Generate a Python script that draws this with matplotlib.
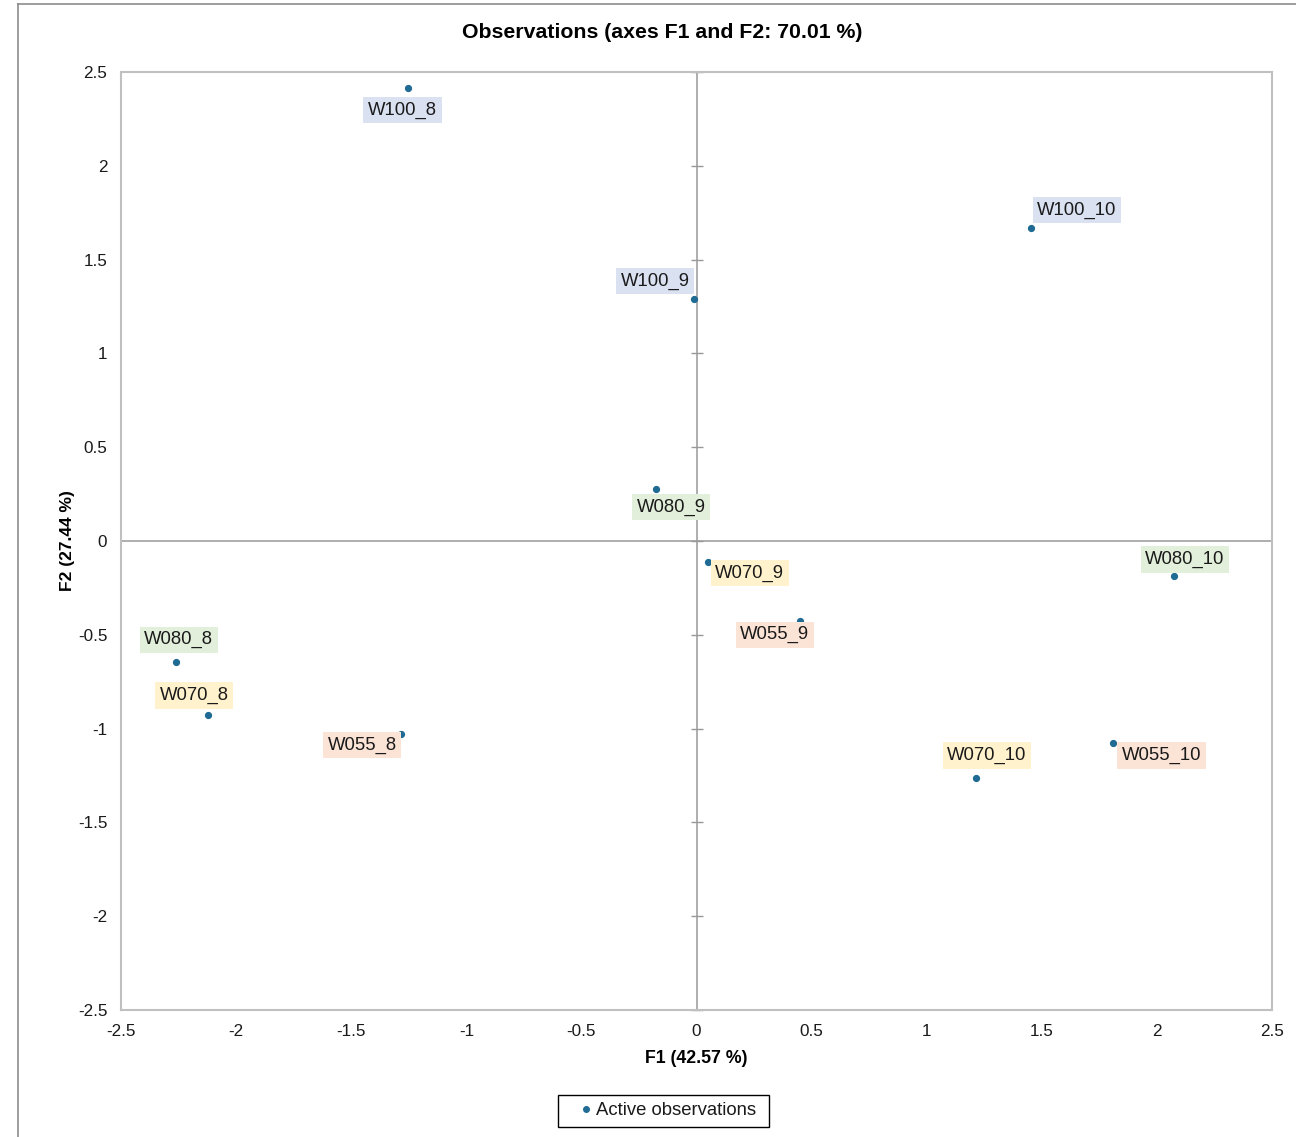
import numpy as np
import matplotlib
matplotlib.use("Agg")
import matplotlib.pyplot as plt
from matplotlib.lines import Line2D
from matplotlib.patches import Rectangle

plt.rcParams['font.family'] = ['Liberation Sans', 'DejaVu Sans']

# observation scores on F1 / F2
names = ['W100_8', 'W100_10', 'W100_9', 'W080_9', 'W070_9', 'W055_9',
         'W080_10', 'W080_8', 'W070_8', 'W055_8', 'W070_10', 'W055_10']
f1 = [-1.253, 1.453, -0.011, -0.176, 0.050, 0.449,
      2.074, -2.261, -2.122, -1.284, 1.214, 1.809]
f2 = [2.415, 1.668, 1.290, 0.277, -0.112, -0.426,
      -0.187, -0.645, -0.928, -1.029, -1.263, -1.077]

ticks = [-2.5, -2, -1.5, -1, -0.5, 0, 0.5, 1, 1.5, 2, 2.5]
tick_labels = ['-2.5', '-2', '-1.5', '-1', '-0.5', '0', '0.5', '1', '1.5', '2', '2.5']

# label box colour by group
group_col = {'W100': '#dae1f1', 'W080': '#e2efda', 'W070': '#fff2cc', 'W055': '#fbe3d6'}
# label offsets in points (dx, dy)
offs = [(-4, -16), (33, 13), (-28, 13), (11, -13), (30, -8), (-18, -10),
        (8, 12), (2, 16), (-10, 14), (-28, -8), (8, 16), (35, -9)]

fig = plt.figure(figsize=(12.96, 11.37), dpi=100)
ax = fig.add_axes([0.0934, 0.1117, 0.8881, 0.825])

ax.axhline(0, color='#999999', lw=1.1, zorder=1)
ax.axvline(0, color='#999999', lw=1.1, zorder=1)
ax.plot(np.zeros(len(ticks)), ticks, ls='none', marker='_', ms=9,
        mew=1.0, color='#999999', zorder=1, clip_on=False)

ax.plot(f1, f2, ls='none', marker='o', ms=4.2, color='#1f6b94', zorder=3)

for n, x, y, (dx, dy) in zip(names, f1, f2, offs):
    ax.annotate(n, (x, y), xytext=(dx, dy), textcoords='offset points',
                ha='center', va='center', fontsize=13.3, color='#1a1a1a',
                bbox=dict(boxstyle='square,pad=0.25', fc=group_col[n[:4]], ec='none'),
                zorder=4)

ax.set_xlim(-2.5, 2.5)
ax.set_ylim(-2.5, 2.5)
ax.set_xticks(ticks)
ax.set_xticklabels(tick_labels)
ax.set_yticks(ticks)
ax.set_yticklabels(tick_labels)
ax.tick_params(length=0, labelsize=12.3, pad=10, colors='#1a1a1a')
for s in ax.spines.values():
    s.set_color('#c0c0c0')
    s.set_linewidth(1.5)

ax.set_xlabel('F1 (42.57 %)', fontsize=12.8, fontweight='bold', labelpad=8)
ax.set_ylabel('F2 (27.44 %)', fontsize=12.5, fontweight='bold', labelpad=2)
fig.text(0.511, 0.971, 'Observations (axes F1 and F2: 70.01 %)', ha='center',
         va='center', fontsize=15.3, fontweight='bold')

# legend (frame drawn separately to get Excel-like padding)
h = Line2D([], [], ls='none', marker='o', ms=4, color='#1f6b94')
leg = fig.legend([h], ['Active observations'], loc='center', bbox_to_anchor=(0.5158, 0.0229),
                 fontsize=13.3, frameon=False, handlelength=0.6,
                 handletextpad=0.25, borderpad=0.2, borderaxespad=0)
for t in leg.get_texts():
    t.set_color('#1a1a1a')
fig.add_artist(Rectangle((0.4306, 0.0088), 0.1628, 0.0282, transform=fig.transFigure,
                         fill=False, ec='black', lw=1.0))

# outer chart border (left and top edges visible)
fig.add_artist(Line2D([0.0139, 0.0139], [0, 0.9965], color='#8c8c8c', lw=1.2))
fig.add_artist(Line2D([0.0139, 1.0], [0.9965, 0.9965], color='#8c8c8c', lw=1.2))

fig.savefig('out.png', dpi=100)
